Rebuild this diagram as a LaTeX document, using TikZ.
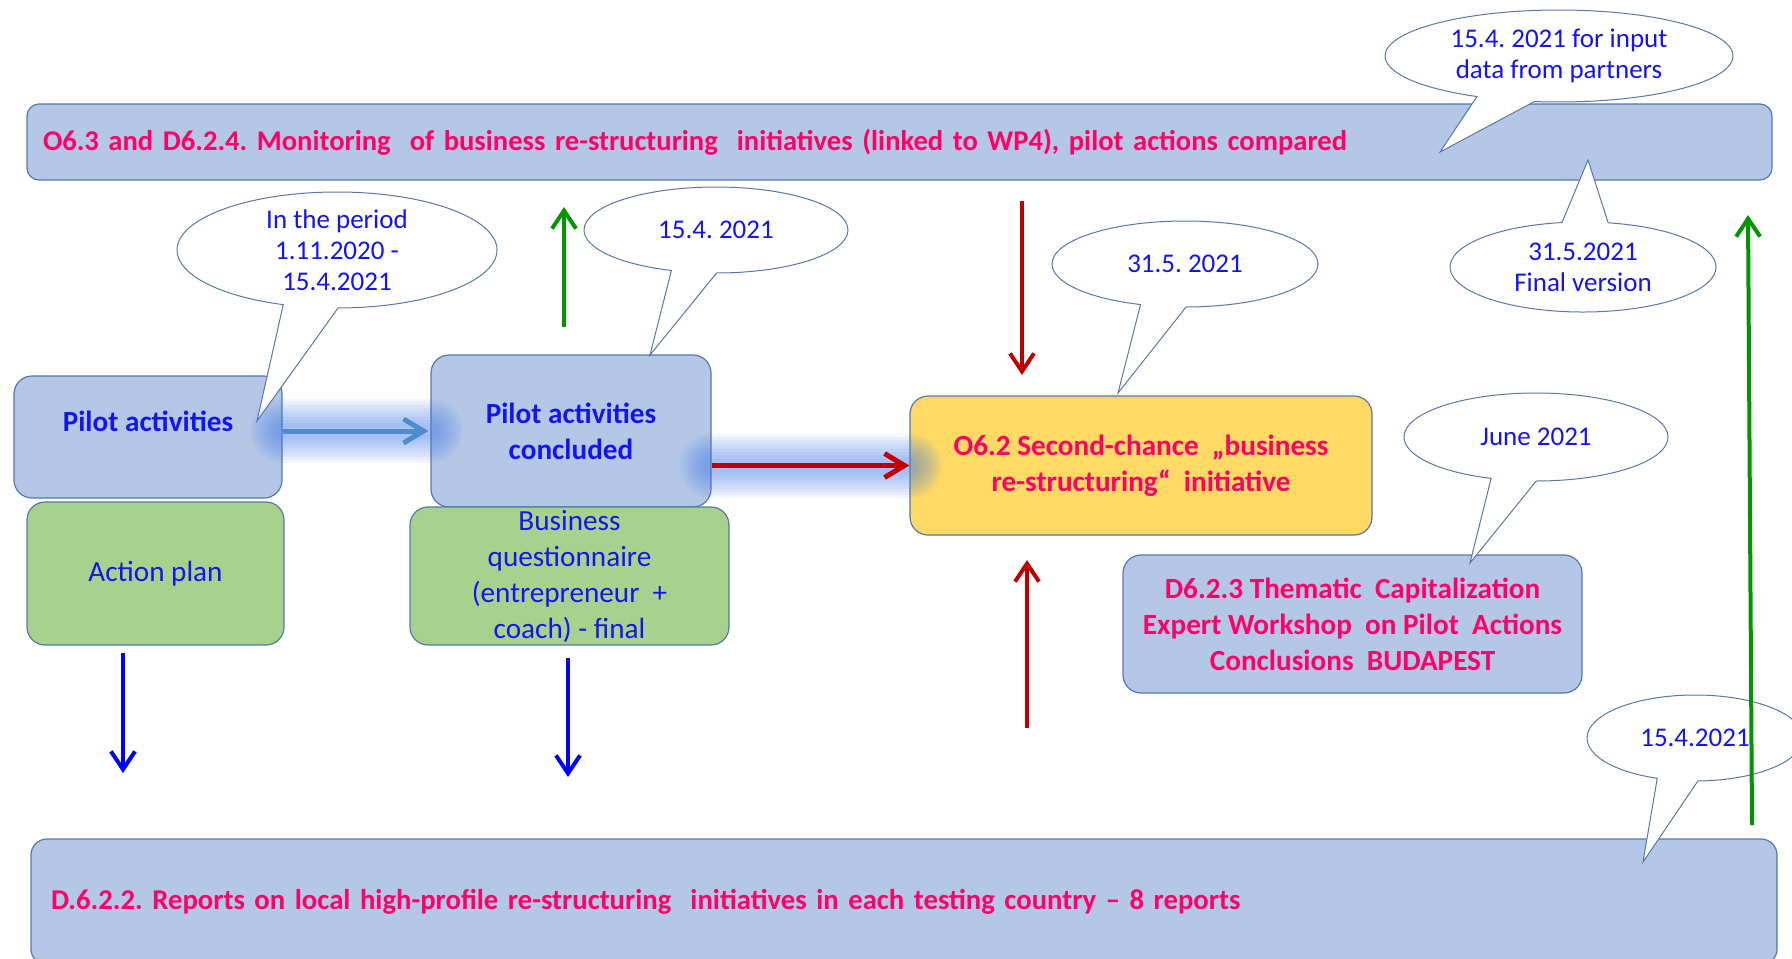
\documentclass[tikz,border=0pt]{standalone}
\usepackage{fontspec}
\setmainfont{Carlito}
\usetikzlibrary{shapes.callouts,arrows.meta}
\frenchspacing

\definecolor{barfill}{RGB}{180,199,231}
\definecolor{boxline}{RGB}{84,120,170}
\definecolor{greenfill}{RGB}{169,209,142}
\definecolor{goldfill}{RGB}{255,217,102}
\definecolor{pinktext}{RGB}{255,0,102}
\definecolor{bluetext}{RGB}{20,20,240}
\definecolor{calloutline}{RGB}{90,120,165}
\definecolor{arrowgreen}{RGB}{0,150,0}
\definecolor{arrowred}{RGB}{192,0,0}
\definecolor{arrowblue}{RGB}{0,0,255}
\definecolor{glowblue}{RGB}{70,125,230}
\definecolor{steelarrow}{RGB}{80,140,205}

\begin{document}
\begin{tikzpicture}[x=0.5pt,y=-0.5pt,
  box/.style={draw=boxline, line width=0.6pt, rounded corners=9pt, inner sep=0pt, align=center},
  bluebox/.style={box, fill=barfill},
  greenbox/.style={box, fill=greenfill, text=bluetext, font=\fontsize{14.6}{18}\selectfont},
  pinkbold/.style={text=pinktext, font=\fontsize{14.6}{18}\selectfont\bfseries},
  bluebold/.style={text=bluetext, font=\fontsize{14.6}{18}\selectfont\bfseries},
  callout/.style={ellipse callout, draw=calloutline, fill=white, line width=0.5pt,
    inner sep=0pt, align=center, text=bluetext, font=\fontsize{13.5}{15.5}\selectfont,
    callout pointer arc=20},
  arr/.style={line width=2pt, -{Straight Barb[length=9pt,width=12pt]}},
  glowarr/.style={line width=2.5pt, -{Straight Barb[length=10pt,width=12pt]}}
]
\clip (0,0) rectangle (1792,958);

% bars
\node[bluebox, rounded corners=6pt, minimum width=872.5pt, minimum height=38pt,
  text width=856.5pt, align=left, text=pinktext, font=\fontsize{14.3}{18}\selectfont\bfseries] (topbar) at (899.5,142)
  {O6.3 and D6.2.4. Monitoring~ of business re-structuring~ initiatives (linked to WP4), pilot actions compared};
\node[bluebox, rounded corners=8pt, minimum width=873pt, minimum height=63pt,
  text width=853pt, align=left, text=pinktext, font=\fontsize{14.35}{18}\selectfont\bfseries] (botbar) at (904,902)
  {D.6.2.2. Reports on local high-profile re-structuring~ initiatives in each testing country – 8 reports};

% boxes
\node[bluebox, minimum width=134pt, minimum height=61pt,
  label={[bluebold, yshift=8pt]center:Pilot activities}] (pilot) at (148,437) {};
\node[bluebox, minimum width=140pt, minimum height=76pt, bluebold] (concl) at (571,431)
  {Pilot activities\\concluded};
\node[greenbox, minimum width=128.5pt, minimum height=71.5pt] (action) at (155.5,573.5) {Action plan};
\node[greenbox, minimum width=159.5pt, minimum height=69pt] (quest) at (569.5,576)
  {Business\\questionnaire\\(entrepreneur~ +\\coach) - final};
\node[box, fill=goldfill, minimum width=231pt, minimum height=69.5pt, pinkbold] (o62) at (1141,465.5)
  {O6.2 Second-chance~ „business\\re-structuring“~ initiative};
\node[bluebox, minimum width=229.5pt, minimum height=69pt, pinkbold] (d623) at (1352.5,624)
  {D6.2.3 Thematic~ Capitalization\\Expert Workshop~ on Pilot~ Actions\\Conclusions~ BUDAPEST};

% callouts
\node[callout, minimum width=160pt, minimum height=58pt, callout absolute pointer={(257,421)}] (c1) at (337,250)
  {In the period\\1.11.2020 -\\15.4.2021};
\node[callout, minimum width=132pt, minimum height=43pt, callout absolute pointer={(650,355)}] (c2) at (716,230)
  {15.4. 2021};
\node[callout, minimum width=133pt, minimum height=43pt, callout absolute pointer={(1118,393)}] (c3) at (1185,264)
  {31.5. 2021};
\node[callout, minimum width=174pt, minimum height=46pt, callout absolute pointer={(1440,152)}] (c4) at (1559,56)
  {15.4. 2021 for input\\data from partners};
\node[callout, minimum width=133pt, minimum height=45pt, callout absolute pointer={(1588,160)}] (c5) at (1583,267)
  {31.5.2021\\Final version};
\node[callout, minimum width=132pt, minimum height=44pt, callout absolute pointer={(1470,563)}] (c6) at (1536,437)
  {June 2021};
\node[callout, minimum width=108pt, minimum height=43pt, callout pointer arc=22,
  callout absolute pointer={(1643,862)}] (c7) at (1695,738)
  {15.4.2021};

% free ends of arrows
\coordinate (g1s) at (564,327); \coordinate (g1e) at (564,207);
\coordinate (r1s) at (1022,201); \coordinate (r1e) at (1022,375);
\coordinate (r2s) at (1027,728); \coordinate (r2e) at (1027,560);
\coordinate (g2s) at (1752,825); \coordinate (g2e) at (1748,215);
\coordinate (b1s) at (123,653); \coordinate (b1e) at (123,773);
\coordinate (b2s) at (568,658); \coordinate (b2e) at (568,777);

% glows
\foreach \w in {32,29,26,23,20,17,14,11,8}{
  \draw[glowblue, line width=\w pt, opacity=0.07, line cap=round] (pilot.east |- concl.west) -- (concl.west);
  \draw[glowblue, line width=\w pt, opacity=0.07, line cap=round] (concl.east |- o62.west) -- (o62.west);
}
\draw[glowarr, steelarrow] (pilot.east |- concl.west) -- ([xshift=-1pt]concl.west);
\draw[glowarr, arrowred] (concl.east |- o62.west) -- (o62.west);

% arrows
\draw[arr, arrowgreen] (g1s) -- (g1e);
\draw[arr, arrowred] (r1s) -- (r1e);
\draw[arr, arrowred] (r2s) -- (r2e);
\draw[arr, arrowgreen] (g2s) -- (g2e);
\draw[arr, arrowblue] (b1s) -- (b1e);
\draw[arr, arrowblue] (b2s) -- (b2e);
\end{tikzpicture}
\end{document}
